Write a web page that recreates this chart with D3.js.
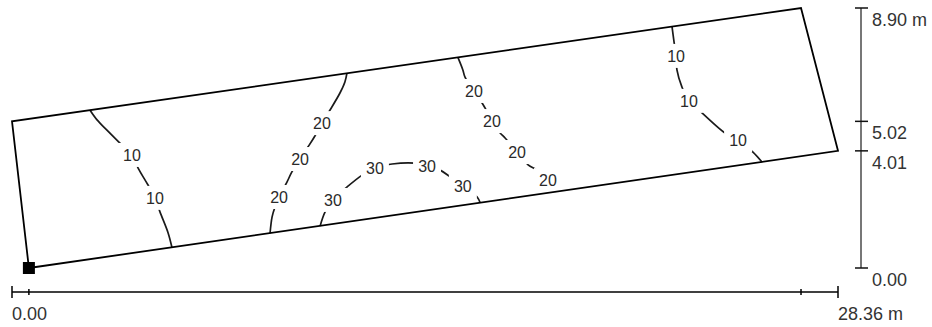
<!DOCTYPE html>
<html>
<head>
<meta charset="utf-8">
<script src="https://cdn.jsdelivr.net/npm/d3@7"></script>
<style>
  body { margin: 0; background: #fff; }
  svg { display: block; font-family: "Liberation Sans", Arial, sans-serif; }
</style>
</head>
<body>
<div id="chart"></div>
<script>
// room outline (m): bottom-left, bottom-right, top-right, top-left
const room = [[0.58, 0], [28.36, 4.01], [27.09, 8.90], [0, 5.02]];

const xTicks = [0, 0.58, 27.09, 28.36];
const xLabelValues = [0, 28.36];
const xLabels = ["0.00", "28.36 m"];
const yTicks = [0, 4.01, 5.02, 8.90];
const yLabels = ["0.00", "4.01", "5.02", "8.90 m"];

// isolines (lux), points in m
const iso10West = [[2.68, 5.40], [2.92, 5.07], [3.26, 4.72], [3.67, 4.31], [4.12, 3.87], [4.33, 3.42],
  [4.67, 2.84], [4.91, 2.40], [5.08, 1.92], [5.36, 1.20], [5.49, 0.71]];
const iso10WestLabels = [[4.12, 3.87], [4.91, 2.40]];

const iso20West = [[8.86, 1.19], [8.93, 1.75], [9.03, 2.09], [9.17, 2.43], [9.44, 2.94], [9.61, 3.29],
  [9.89, 3.73], [10.16, 4.14], [10.40, 4.52], [10.64, 4.96], [10.92, 5.41], [11.26, 5.99],
  [11.43, 6.37], [11.50, 6.67]];
const iso20WestLabels = [[9.17, 2.43], [9.89, 3.73], [10.64, 4.96]];

const iso30 = [[10.58, 1.44], [10.75, 1.92], [11.02, 2.33], [11.50, 2.77], [12.02, 3.18], [12.46, 3.42],
  [13.05, 3.56], [13.84, 3.59], [14.25, 3.49], [14.70, 3.35], [15.04, 3.12], [15.48, 2.81],
  [15.97, 2.43], [16.07, 2.24]];
const iso30Labels = [[11.02, 2.33], [12.46, 3.42], [14.25, 3.49], [15.48, 2.81]];

const iso20East = [[15.31, 7.21], [15.48, 6.78], [15.55, 6.54], [15.86, 6.06], [16.14, 5.65], [16.24, 5.48],
  [16.48, 5.03], [16.76, 4.62], [16.93, 4.45], [17.34, 3.97], [17.72, 3.53], [18.03, 3.35],
  [18.40, 3.01], [18.70, 2.61]];
const iso20EastLabels = [[15.86, 6.06], [16.48, 5.03], [17.34, 3.97], [18.40, 3.01]];

const iso10East = [[22.66, 8.27], [22.73, 7.74], [22.80, 7.26], [22.83, 6.78], [23.00, 6.20], [23.24, 5.72],
  [23.69, 5.31], [24.48, 4.62], [24.93, 4.38], [25.44, 3.97], [25.75, 3.63]];
const iso10EastLabels = [[22.80, 7.26], [23.24, 5.72], [24.93, 4.38]];

const isolines = [
  { value: 10, points: iso10West, labels: iso10WestLabels },
  { value: 20, points: iso20West, labels: iso20WestLabels },
  { value: 30, points: iso30, labels: iso30Labels },
  { value: 20, points: iso20East, labels: iso20EastLabels },
  { value: 10, points: iso10East, labels: iso10EastLabels }
];

const width = 932, height = 327;

const svg = d3.select("#chart").append("svg")
    .attr("width", width)
    .attr("height", height);

const x = d3.scaleLinear().domain([0, 28.36]).range([12, 838]);
const y = d3.scaleLinear().domain([0, 8.90]).range([268, 8]);

const line = d3.line()
    .x(d => x(d[0]))
    .y(d => y(d[1]))
    .curve(d3.curveCatmullRom);

// isolines
svg.append("g").selectAll("path")
  .data(isolines)
  .enter().append("path")
    .attr("d", d => line(d.points))
    .attr("fill", "none")
    .attr("stroke", "#1a1a1a")
    .attr("stroke-width", 1.7);

// labels, white box cuts the line
const labelData = isolines.flatMap(d => d.labels.map(p => ({ value: d.value, p: p })));
const lbl = svg.append("g").selectAll("g")
  .data(labelData)
  .enter().append("g")
    .attr("transform", d => "translate(" + x(d.p[0]) + "," + y(d.p[1]) + ")");

lbl.append("rect")
    .attr("x", -14)
    .attr("y", -12)
    .attr("width", 28)
    .attr("height", 24)
    .attr("fill", "#fff");

lbl.append("text")
    .attr("text-anchor", "middle")
    .attr("dy", "0.36em")
    .attr("font-size", 16)
    .attr("fill", "#2a2a2a")
    .text(d => d.value);

// room outline
svg.append("path")
    .attr("d", d3.line().x(d => x(d[0])).y(d => y(d[1]))(room) + "Z")
    .attr("fill", "none")
    .attr("stroke", "#000")
    .attr("stroke-width", 1.8)
    .attr("stroke-linejoin", "miter");

// origin marker
svg.append("rect")
    .attr("x", x(room[0][0]) - 6)
    .attr("y", y(room[0][1]) - 6)
    .attr("width", 12)
    .attr("height", 12)
    .attr("fill", "#000");

// horizontal dimension
const axisY = 292;
const hx = svg.append("g");
hx.append("line")
    .attr("x1", x(0)).attr("x2", x(28.36))
    .attr("y1", axisY).attr("y2", axisY)
    .attr("stroke", "#000").attr("stroke-width", 1.5);
hx.selectAll(".tick")
  .data(xTicks)
  .enter().append("line")
    .attr("x1", d => x(d)).attr("x2", d => x(d))
    .attr("y1", (d, i) => axisY - (i === 0 || i === xTicks.length - 1 ? 6 : 3))
    .attr("y2", (d, i) => axisY + (i === 0 || i === xTicks.length - 1 ? 6 : 3))
    .attr("stroke", "#000").attr("stroke-width", 1.5);
hx.selectAll("text")
  .data(xLabelValues)
  .enter().append("text")
    .attr("x", d => x(d))
    .attr("y", axisY + 28)
    .attr("font-size", 18)
    .attr("fill", "#333")
    .text((d, i) => xLabels[i]);

// vertical dimension
const axisX = 861;
const vy = svg.append("g");
vy.append("line")
    .attr("x1", axisX).attr("x2", axisX)
    .attr("y1", y(0)).attr("y2", y(8.90))
    .attr("stroke", "#777").attr("stroke-width", 2);
vy.selectAll(".tick")
  .data(yTicks)
  .enter().append("line")
    .attr("x1", axisX - 6).attr("x2", axisX + 7)
    .attr("y1", d => y(d)).attr("y2", d => y(d))
    .attr("stroke", "#111").attr("stroke-width", 1.5);
vy.selectAll("text")
  .data(yTicks)
  .enter().append("text")
    .attr("x", axisX + 11)
    .attr("y", d => y(d) + 18)
    .attr("font-size", 18)
    .attr("fill", "#333")
    .text((d, i) => yLabels[i]);
</script>
</body>
</html>
